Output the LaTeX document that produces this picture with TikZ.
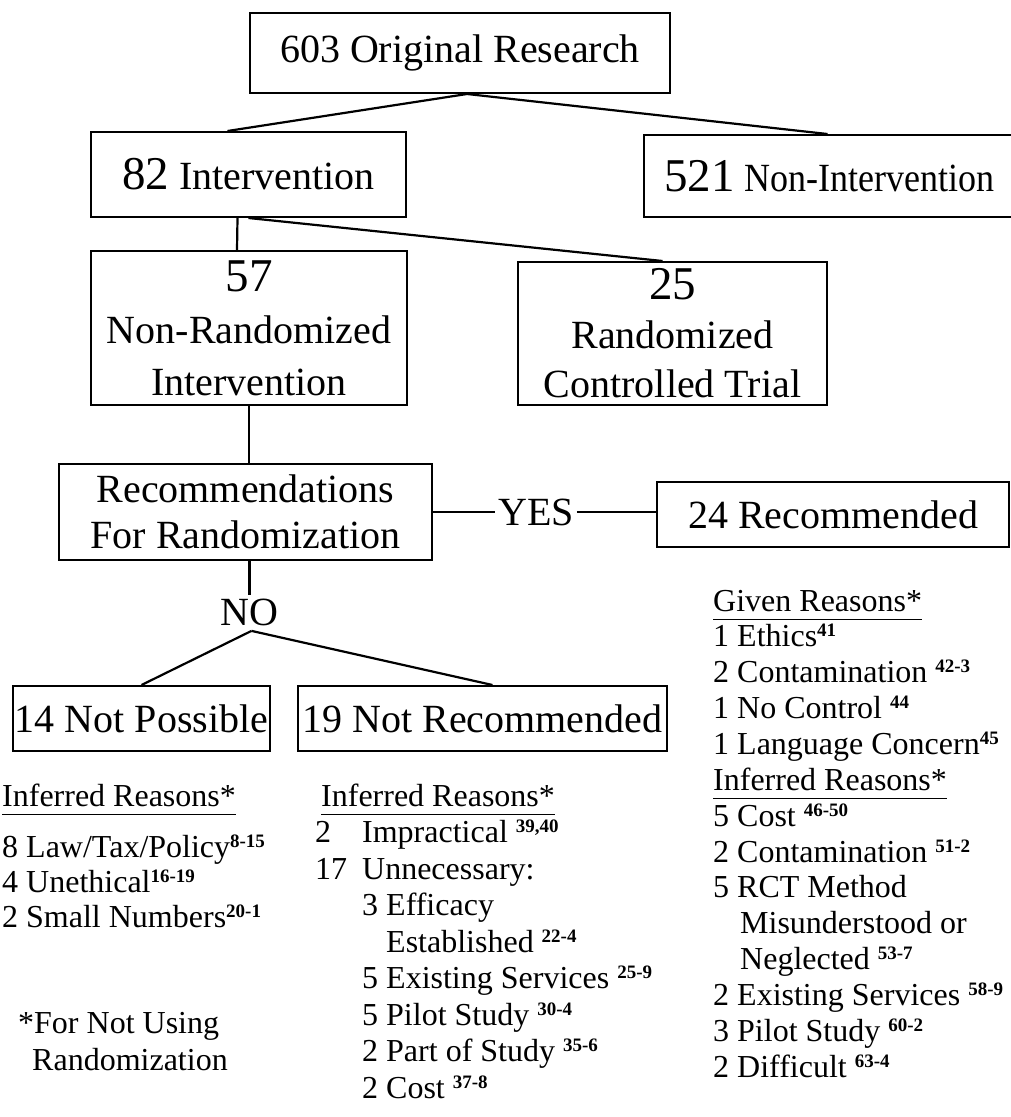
\documentclass[tikz,border=0pt]{standalone}
\usepackage{fontspec}
\setmainfont{Liberation Serif}
\usepackage{graphicx}
\usetikzlibrary{positioning,calc}
\tikzset{
  studybox/.style={rectangle,draw=black,line width=2pt,inner sep=0pt,
    align=center,font=\fontsize{40}{52}\selectfont},
  treeline/.style={line width=2.2pt},
  choice/.style={font=\fontsize{40}{40}\selectfont,inner sep=3pt},
  reason/.style={anchor=base west,inner sep=0pt,font=\fontsize{32}{36}\selectfont},
}
\newcommand{\bignum}[1]{{\fontsize{47}{47}\selectfont #1}}
\newcommand{\refno}[1]{\raisebox{10pt}{\fontsize{19}{19}\selectfont\bfseries #1}}
\newcommand{\hdr}[1]{\underline{#1\vphantom{y}}}

\begin{document}
\begin{tikzpicture}[x=1pt,y=-1pt]
  \useasboundingbox (0,0) rectangle (1011,1117);

  % study boxes
  \node[studybox, minimum width=420pt, minimum height=80pt] (orig) at (460,53)
    {603 Original Research};
  \node[studybox, minimum width=315pt, minimum height=85pt] (interv) at (248.5,174.5)
    {\bignum{82} Intervention};
  \node[studybox, minimum width=371pt, minimum height=82pt] (nonint) at (829.5,176)
    {\bignum{521} \scalebox{0.9}[1]{Non-Intervention}};
  \node[studybox, minimum width=316pt, minimum height=154pt] (nonrand) at (249,328)
    {\bignum{57}\\Non-Randomized\\Intervention};
  \node[studybox, minimum width=309pt, minimum height=143pt,
    font=\fontsize{40}{49}\selectfont] (rct) at (672.5,333.5)
    {\bignum{25}\\Randomized\\Controlled Trial};
  \node[studybox, minimum width=373pt, minimum height=96pt,
    font=\fontsize{40}{46}\selectfont] (recom) at (245.5,512)
    {Recommendations\\For Randomization};
  \node[studybox, minimum width=352pt, minimum height=65pt] (recd) at (833,514.5)
    {24 Recommended};
  \node[studybox, minimum width=257pt, minimum height=65pt] (notposs) at (141.5,718.5)
    {14 Not Possible};
  \node[studybox, minimum width=369pt, minimum height=65pt] (notrec) at (482.5,718.5)
    {19 Not Recommended};

  \node[choice] (yes) at (536,512) {YES};
  \node[choice, inner sep=4.5pt] (no) at (249.5,612.75) {NO};

  % connectors
  \draw[treeline] ([xshift=7pt]orig.south) -- ([xshift=-21pt]interv.north);
  \draw[treeline] ([xshift=7pt]orig.south) -- ([xshift=-2pt]nonint.north);
  \draw[treeline] ([xshift=-11pt]interv.south) -- ([xshift=-12pt]nonrand.north);
  \draw[treeline] (interv.south) -- ([xshift=-10pt]rct.north);
  \draw[treeline] (nonrand.south) -- (nonrand.south |- recom.north);
  \draw[treeline] (recom.east) -- (yes.west);
  \draw[treeline] (yes.east) -- (yes.east -| recd.west);
  \draw[treeline] (recom.south -| no.north) -- (no.north);
  \draw[treeline] ([xshift=2pt]no.south) -- (notposs.north);
  \draw[treeline] ([xshift=2pt]no.south) -- ([xshift=10pt]notrec.north);

  % not possible
  \node[reason] (npHead) at (2,806) {\hdr{Inferred Reasons*}};
  \node[reason] (np1) at (2,857) {8 Law/Tax/Policy\refno{8-15}};
  \node[reason] (np2) at (2,892) {4 Unethical\refno{16-19}};
  \node[reason] (np3) at (2,927) {2 Small Numbers\refno{20-1}};
  \node[reason] (note1) at (18,1033) {*For Not Using};
  \node[reason] (note2) at (32,1070) {Randomization};

  % not recommended
  \node[reason] (nrHead) at (321,806) {\hdr{Inferred Reasons*}};
  \node[reason] (nr1) at (315,842.5) {\makebox[47pt][l]{2}Impractical \refno{39,40}};
  \node[reason] (nr2) at (315,879) {\makebox[47pt][l]{17}Unnecessary:};
  \node[reason] (nr3) at (362,915.5) {3 Efficacy};
  \node[reason] (nr4) at (386,952) {Established \refno{22-4}};
  \node[reason] (nr5) at (362,988.5) {5 Existing Services \refno{25-9}};
  \node[reason] (nr6) at (362,1025) {5 Pilot Study \refno{30-4}};
  \node[reason] (nr7) at (362,1061.5) {2 Part of Study \refno{35-6}};
  \node[reason] (nr8) at (362,1098) {2 Cost \refno{37-8}};

  % recommended
  \node[reason] (rcHead) at (713,611) {\hdr{Given Reasons*}};
  \node[reason] (rc1) at (713,646.9) {1 Ethics\refno{41}};
  \node[reason] (rc2) at (713,682.7) {2 Contamination \refno{42-3}};
  \node[reason] (rc3) at (713,718.6) {1 No Control \refno{44}};
  \node[reason] (rc4) at (713,754.4) {1 Language Concern\refno{45}};
  \node[reason] (rcHead2) at (713,790.3) {\hdr{Inferred Reasons*}};
  \node[reason] (rc5) at (713,826.1) {5 Cost \refno{46-50}};
  \node[reason] (rc6) at (713,862) {2 Contamination \refno{51-2}};
  \node[reason] (rc7) at (713,897.8) {5 RCT Method};
  \node[reason] (rc8) at (740,933.7) {Misunderstood or};
  \node[reason] (rc9) at (740,969.5) {Neglected \refno{53-7}};
  \node[reason] (rc10) at (713,1005.4) {2 Existing Services \refno{58-9}};
  \node[reason] (rc11) at (713,1041.2) {3 Pilot Study \refno{60-2}};
  \node[reason] (rc12) at (713,1077) {2 Difficult \refno{63-4}};
\end{tikzpicture}
\end{document}
